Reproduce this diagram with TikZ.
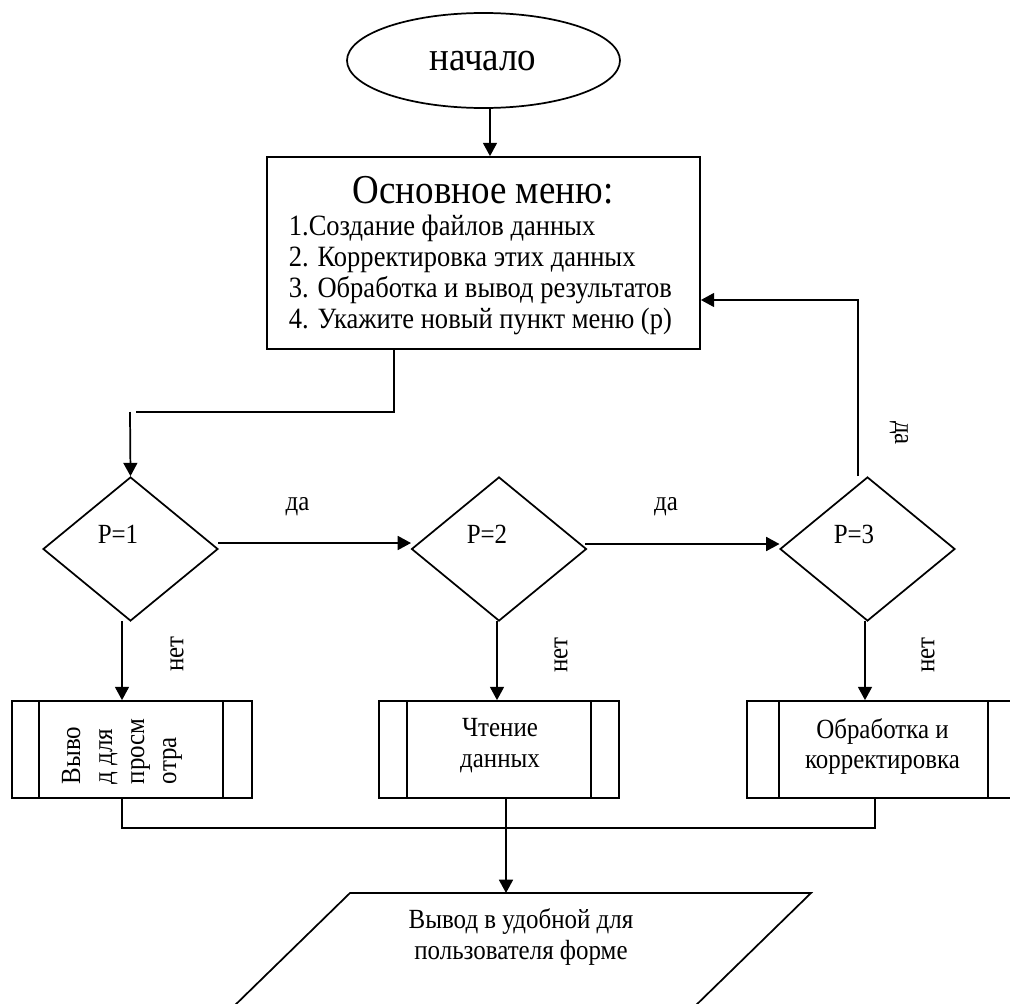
\documentclass[tikz,border=0pt]{standalone}
\usepackage{fontspec}
\setmainfont{Liberation Serif}[FakeStretch=0.9]
\usetikzlibrary{arrows.meta,shapes.geometric}
\begin{document}
\begin{tikzpicture}[x=0.75pt,y=-0.75pt,
  line width=1.3pt,
  arr/.style={-{Triangle[length=10pt,width=10.5pt]}},
  txt/.style={inner sep=0pt,font=\fontsize{20.8pt}{24pt}\selectfont},
  menutxt/.style={inner sep=0pt,font=\fontsize{22.1pt}{24pt}\selectfont},
  big/.style={inner sep=0pt,font=\fontsize{30.8pt}{33pt}\selectfont},
  dec/.style={draw,diamond,minimum width=131.25pt,minimum height=108pt,inner sep=0pt},
  subbox/.style={draw,rectangle,minimum height=72.75pt,inner sep=0pt}]
\useasboundingbox (0,0) rectangle (1010,1003);
\clip (0,0) rectangle (1010,1003);

% start
\node[draw,ellipse,minimum width=204.75pt,minimum height=71.25pt,inner sep=0pt] (start) at (483.5,60.5) {};
\node[big,anchor=base] (starttxt) at (483,70) {начало};

% menu
\node[draw,rectangle,minimum width=324.75pt,minimum height=144pt,inner sep=0pt] (menu) at (483.5,253) {};
\node[big,anchor=base] (menutitle) at (483,203) {Основное меню:};
\node[menutxt,anchor=base west] (m1) at (288,235) {1.Создание файлов данных};
\node[menutxt,anchor=base west] (m2) at (288,266) {2. Корректировка этих данных};
\node[menutxt,anchor=base west] (m3) at (288,297) {3. Обработка и вывод результатов};
\node[menutxt,anchor=base west] (m4) at (288,328) {4. Укажите новый пункт меню (р)};

% decisions
\node[dec] (d1) at (130.5,549) {};
\node[dec] (d2) at (499,549) {};
\node[dec] (d3) at (867.5,549) {};
\node[txt,anchor=base] (d1t) at (118,543) {Р=1};
\node[txt,anchor=base] (d2t) at (487,543) {Р=2};
\node[txt,anchor=base] (d3t) at (854,543) {Р=3};

% subroutine boxes
\node[subbox,minimum width=180pt] (b1) at (132,749.5) {};
\node[subbox,minimum width=180pt] (b2) at (499,749.5) {};
\node[subbox,minimum width=201.75pt] (b3) at (881.5,749.5) {};
\draw ([xshift=21pt]b1.north west) -- ([xshift=21pt]b1.south west);
\draw ([xshift=-22.5pt]b1.north east) -- ([xshift=-22.5pt]b1.south east);
\draw ([xshift=21.75pt]b2.north west) -- ([xshift=21.75pt]b2.south west);
\draw ([xshift=-21.75pt]b2.north east) -- ([xshift=-21.75pt]b2.south east);
\draw ([xshift=24.75pt]b3.north west) -- ([xshift=24.75pt]b3.south west);
\draw ([xshift=-21.75pt]b3.north east) -- ([xshift=-21.75pt]b3.south east);

\node[txt,rotate=90,anchor=base west] (b1a) at (80,785) {Выво};
\node[txt,rotate=90,anchor=base west] (b1b) at (112,785) {д для};
\node[txt,rotate=90,anchor=base west] (b1c) at (144,785) {просм};
\node[txt,rotate=90,anchor=base west] (b1d) at (176,785) {отра};

\node[txt,anchor=base] (b2a) at (500,736) {Чтение};
\node[txt,anchor=base] (b2b) at (500,767) {данных};
\node[txt,anchor=base] (b3a) at (882.5,738) {Обработка и};
\node[txt,anchor=base] (b3b) at (882.5,768) {корректировка};

% output parallelogram
\coordinate (pA) at (350,893);
\coordinate (pB) at (811,893);
\coordinate (pC) at (650,1050);
\coordinate (pD) at (189,1050);
\draw (pA) -- (pB) -- (pC) -- (pD) -- cycle;
\node[txt,anchor=base] (o1) at (521,928) {Вывод в удобной для};
\node[txt,anchor=base] (o2) at (521,959) {пользователя форме};

% labels
\node[txt,anchor=base] (yes1) at (297.5,510) {да};
\node[txt,anchor=base] (yes2) at (666,510) {да};
\node[txt,rotate=-90] (yes3) at (899,433) {да};
\node[txt,rotate=90] (no1) at (177,654) {нет};
\node[txt,rotate=90] (no2) at (561,655) {нет};
\node[txt,rotate=90] (no3) at (928,655) {нет};

% connectors
\draw[arr] (start.south -| 490,0) -- (menu.north -| 490,0);
\coordinate (j1) at (394,412);
\coordinate (j1b) at (136,412);
\coordinate (j1c) at (130,412);
\draw (menu.south -| j1) -- (j1) -- (j1b);
\draw[arr] (j1c) -- (d1.north);
\draw[arr] (218,543) -- (411,543);
\draw[arr] (585,544) -- (779.5,544);
\coordinate (r1) at (858,300);
\draw[arr] (858,476) -- (r1) -- (menu.east |- r1);
\draw[arr] (122,621) -- (b1.north -| 122,0);
\draw[arr] (497,621) -- (b2.north -| 497,0);
\draw[arr] (865,621) -- (b3.north -| 865,0);
\coordinate (bl) at (122,828);
\coordinate (bm) at (506,828);
\coordinate (br) at (875,828);
\draw (b1.south -| bl) -- (bl) -- (br) -- (b3.south -| br);
\draw[arr] (b2.south -| bm) -- (bm) -- (pA -| bm);
\end{tikzpicture}
\end{document}
